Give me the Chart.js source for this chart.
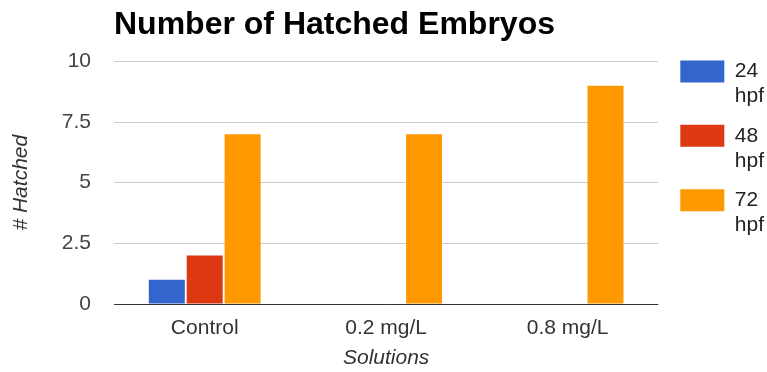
<!DOCTYPE html>
<html>
<head>
<meta charset="utf-8">
<script src="https://cdn.jsdelivr.net/npm/chart.js@4"></script>
<style>
  html, body { margin: 0; padding: 0; background: #ffffff; }
  #chart { display: block; }
</style>
</head>
<body>
<canvas id="chart" width="767" height="372"></canvas>
<script>
// Hatched embryo counts per solution at three time points
const solutions = ['Control', '0.2 mg/L', '0.8 mg/L'];
const hatched24hpf = [1, 0, 0];
const hatched48hpf = [2, 0, 0];
const hatched72hpf = [7, 7, 9];
const seriesNames = ['24 hpf', '48 hpf', '72 hpf'];
const seriesColors = ['#3366cc', '#dc3912', '#ff9900'];
const yTickValues = [0, 2.5, 5, 7.5, 10];

Chart.defaults.font.family = "'Liberation Sans', Arial, sans-serif";

const seriesValues = [hatched24hpf, hatched48hpf, hatched72hpf];

new Chart(document.getElementById('chart'), {
  type: 'bar',
  data: {
    labels: solutions,
    datasets: seriesNames.map((name, i) => ({
      label: name,
      data: seriesValues[i],
      backgroundColor: seriesColors[i],
      borderWidth: 0,
      categoryPercentage: 0.627,
      barPercentage: 0.95
    }))
  },
  options: {
    responsive: false,
    animation: false,
    layout: { padding: { left: 0, right: -7, top: 0, bottom: 0 } },
    plugins: {
      tooltip: { enabled: false },
      title: {
        display: true,
        text: 'Number of Hatched Embryos',
        align: 'start',
        fullSize: false,
        color: '#000000',
        font: { size: 32, weight: 'bold' },
        padding: { top: 6, bottom: 17 }
      },
      legend: {
        position: 'right',
        align: 'start',
        title: { display: true, text: '', font: { size: 12, lineHeight: 1.2 }, padding: { top: 32, bottom: 0 } },
        labels: {
          boxWidth: 44,
          boxHeight: 22,
          padding: 14,
          color: '#222222',
          font: { size: 21, lineHeight: 1.2 },
          generateLabels(chart) {
            const items = Chart.defaults.plugins.legend.labels.generateLabels(chart);
            items.forEach(item => { item.text = item.text.split(' '); });
            return items;
          }
        }
      }
    },
    scales: {
      x: {
        grid: { display: false },
        border: { display: false },
        ticks: { padding: 4, color: '#333333', font: { size: 21 } },
        title: {
          display: true,
          text: 'Solutions',
          color: '#333333',
          font: { size: 21, style: 'italic' },
          padding: { top: 0, bottom: 1 }
        },
        afterFit(scale) { scale.height = 68; }
      },
      y: {
        min: 0,
        max: 10,
        afterBuildTicks(scale) { scale.ticks = yTickValues.map(v => ({ value: v })); },
        grid: {
          drawTicks: false,
          lineWidth: 1,
          color: ctx => (ctx.tick && ctx.tick.value === 0 ? '#333333' : '#cccccc')
        },
        border: { display: false },
        ticks: { padding: 23, color: '#444444', font: { size: 21 } },
        title: {
          display: true,
          text: '# Hatched',
          color: '#333333',
          font: { size: 21, style: 'italic' },
          padding: { top: 9, bottom: 0 }
        },
        afterFit(scale) { scale.width = 114; }
      },
      // narrow empty axis keeping a gap between the plot and the legend
      gap: {
        type: 'linear',
        position: 'right',
        display: true,
        grid: { display: false },
        border: { display: false },
        ticks: { display: false },
        afterFit(scale) { scale.width = 8; }
      }
    }
  }
});
</script>
</body>
</html>
